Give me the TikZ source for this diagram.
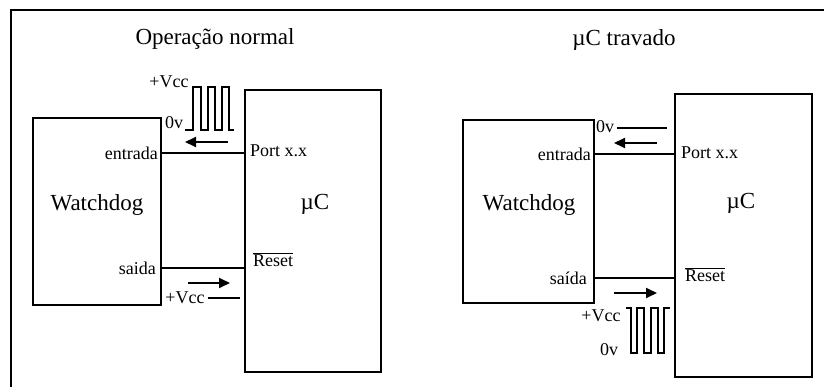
\documentclass[tikz,border=0pt]{standalone}
\usepackage{fontspec}
\setmainfont{Liberation Serif}
\usetikzlibrary{arrows.meta}
\begin{document}
\begin{tikzpicture}[x=1pt,y=-1pt,
	box/.style={draw,line width=1.4pt,inner sep=0pt},
	lbl/.style={font=\fontsize{18}{18}\selectfont,inner sep=0pt},
	big/.style={font=\fontsize{23}{23}\selectfont,inner sep=0pt},
	flow/.style={line width=1.8pt,-{Triangle[length=11pt,width=10pt]}},
	wave/.style={line width=1.4pt}]
\useasboundingbox (0,0) rectangle (824,387);
\draw[line width=2pt] (11,387) -- (11,10) -- (824,10);
% operacao normal
\node[big] (titleA) at (215,39) {Operação normal};
\node[box,minimum width=128pt,minimum height=187pt] (wdA) at (97,211.5) {};
\node[box,minimum width=136pt,minimum height=282pt] (ucA) at (313,231) {};
\node[big] (wdtxtA) at (97,205) {Watchdog};
\node[big] (uctxtA) at (315,204) {µC};
\node[lbl,anchor=east] (entA) at (158,153) {entrada};
\node[lbl,anchor=west] (portA) at (250,151) {Port x.x};
\node[lbl,anchor=east] (saiA) at (156,268) {saida};
\node[lbl,anchor=west] (rstA) at (253,260) {$\overline{\mbox{Reset}}$};
\draw[line width=1.3pt] (wdA.east |- entA) -- (ucA.west |- entA);
\draw[line width=1.3pt] (wdA.east |- saiA) -- (ucA.west |- saiA);
\coordinate (arA1) at (228,142);
\coordinate (arA2) at (185,142);
\draw[flow] (arA1) -- (arA2);
\coordinate (arA3) at (188,283);
\coordinate (arA4) at (230,283);
\draw[flow] (arA3) -- (arA4);
\node[lbl] (vccA) at (169,82) {+Vcc};
\node[lbl] (zeroA) at (174,123) {0v};
\draw[wave] (185,130) -- (193,130) -- (193,87) -- (201,87) -- (201,130)
	-- (208,130) -- (208,87) -- (215,87) -- (215,130)
	-- (222,130) -- (222,87) -- (229,87) -- (229,130) -- (234,130);
\node[lbl] (vccB) at (185,298) {+Vcc};
\coordinate (hiA) at (240,298);
\draw[wave] (vccB.east) ++(3,0) -- (hiA);
% uC travado
\node[big] (titleB) at (624,40) {µC travado};
\node[box,minimum width=131pt,minimum height=183pt] (wdB) at (528.5,211.5) {};
\node[box,minimum width=137pt,minimum height=283pt] (ucB) at (743.5,235.5) {};
\node[big] (wdtxtB) at (529,205) {Watchdog};
\node[big] (uctxtB) at (741,203) {µC};
\node[lbl,anchor=east] (entB) at (591,154) {entrada};
\node[lbl,anchor=west] (portB) at (681,153) {Port x.x};
\node[lbl,anchor=east] (saiB) at (587,278) {saída};
\node[lbl,anchor=west] (rstB) at (685,275) {$\overline{\mbox{Reset}}$};
\draw[line width=1.3pt] (wdB.east |- entB) -- (ucB.west |- entB);
\draw[line width=1.3pt] (wdB.east |- saiB) -- (ucB.west |- saiB);
\node[lbl] (zeroB) at (605,127) {0v};
\coordinate (loB) at (667,128);
\draw[wave] (zeroB.east) ++(3,1) -- (loB);
\coordinate (arB1) at (657,143);
\coordinate (arB2) at (614,143);
\draw[flow] (arB1) -- (arB2);
\coordinate (arB3) at (614,293);
\coordinate (arB4) at (657,293);
\draw[flow] (arB3) -- (arB4);
\node[lbl] (vccC) at (601,316) {+Vcc};
\node[lbl] (zeroC) at (609,350) {0v};
\draw[wave] (626,308) -- (631,308) -- (631,353) -- (637,353) -- (637,308)
	-- (644,308) -- (644,353) -- (651,353) -- (651,308)
	-- (658,308) -- (658,353) -- (664,353) -- (664,308) -- (670,308);
\end{tikzpicture}
\end{document}
